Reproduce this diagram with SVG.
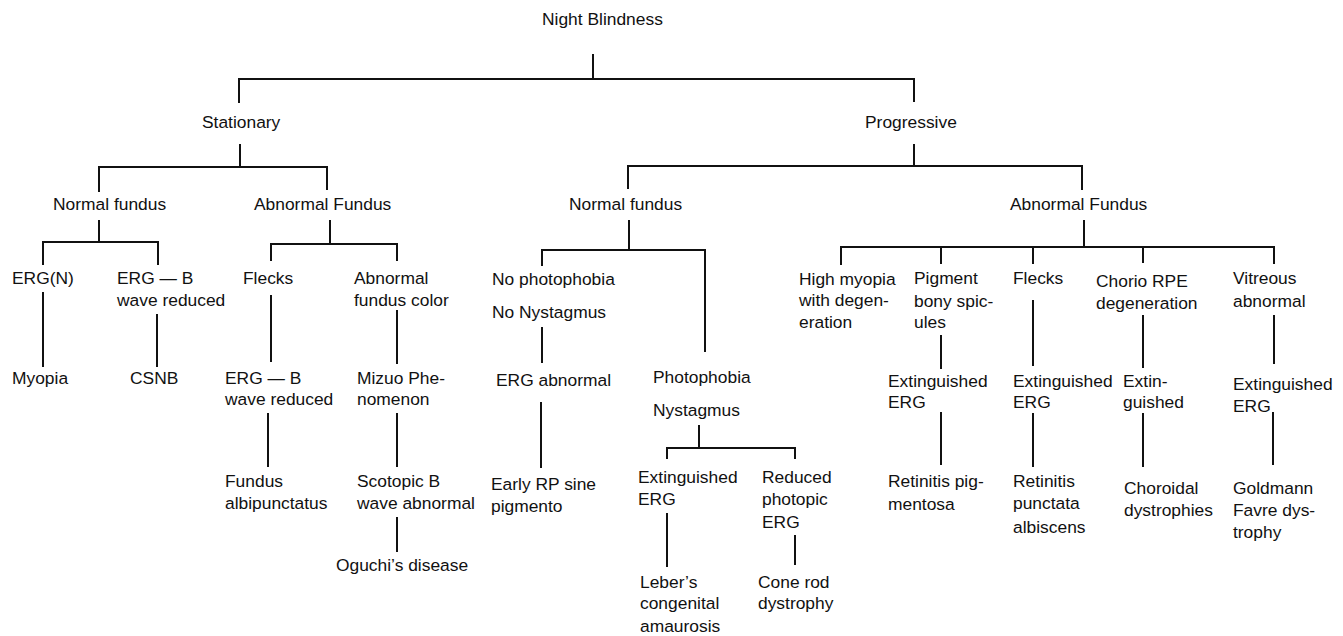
<svg xmlns="http://www.w3.org/2000/svg" width="1343" height="636" viewBox="0 0 1343 636">
<style>
text{font-family:"Liberation Sans",Arial,sans-serif;font-size:17.4px;fill:#111}
.c{fill:none;stroke:#111;stroke-width:2}
</style>
<rect width="1343" height="636" fill="#fff"/>
<g id="connectors">
<path class="c" d="M593 54V79M239 103V79H914V102"/>
<path class="c" d="M240 144V167M99 192V167H327V190"/>
<path class="c" d="M914 144V166M628 189V166H1082V190"/>
<path class="c" d="M99 220V242M43 265V242H158V265"/>
<path class="c" d="M43 292V367M157 314V367"/>
<path class="c" d="M330 220V244M271 261V244H397V261"/>
<path class="c" d="M271 295V362M397 310V364M268 413V467M397 413V467M397 517V552"/>
<path class="c" d="M629 220V250M542 266V250H705V352"/>
<path class="c" d="M542 327V363M541 402V468"/>
<path class="c" d="M699 425V448M667 459V448H795V459"/>
<path class="c" d="M667 513V567M795 535V565"/>
<path class="c" d="M1084 220V247M841 265V247H1274V264M941 247V264M1033 247V264M1143 247V263"/>
<path class="c" d="M941 335V369M1033 300V366M1143 315V368M1274 315V364"/>
<path class="c" d="M941 412V465M1033 413V467M1143 413V467M1273 412V465"/>
</g>
<g id="n-root"><text x="542" y="25">Night Blindness</text></g>
<g id="n-stationary"><text x="202" y="128">Stationary</text></g>
<g id="n-progressive"><text x="865" y="128">Progressive</text></g>
<g id="n-s-normal"><text x="53" y="210">Normal fundus</text></g>
<g id="n-s-abnormal"><text x="254" y="210">Abnormal Fundus</text></g>
<g id="n-p-normal"><text x="569" y="210">Normal fundus</text></g>
<g id="n-p-abnormal"><text x="1010" y="210">Abnormal Fundus</text></g>
<g id="n-ergn"><text x="12" y="284">ERG(N)</text></g>
<g id="n-ergb1"><text x="117" y="284">ERG — B</text><text x="117" y="306">wave reduced</text></g>
<g id="n-myopia"><text x="12" y="384">Myopia</text></g>
<g id="n-csnb"><text x="130" y="384">CSNB</text></g>
<g id="n-flecks1"><text x="243" y="284">Flecks</text></g>
<g id="n-abcolor"><text x="354" y="284">Abnormal</text><text x="354" y="306">fundus color</text></g>
<g id="n-ergb2"><text x="225" y="384">ERG — B</text><text x="225" y="405">wave reduced</text></g>
<g id="n-mizuo"><text x="357" y="384">Mizuo Phe-</text><text x="357" y="405">nomenon</text></g>
<g id="n-fundusalb"><text x="225" y="487">Fundus</text><text x="225" y="509">albipunctatus</text></g>
<g id="n-scotopic"><text x="357" y="487">Scotopic B</text><text x="357" y="509">wave abnormal</text></g>
<g id="n-oguchi"><text x="336" y="571">Oguchi’s disease</text></g>
<g id="n-nophoto"><text x="492" y="285">No photophobia</text><text x="492" y="318">No Nystagmus</text></g>
<g id="n-ergabn"><text x="496" y="386">ERG abnormal</text></g>
<g id="n-earlyrp"><text x="491" y="490">Early RP sine</text><text x="491" y="512">pigmento</text></g>
<g id="n-photo"><text x="653" y="383">Photophobia</text><text x="653" y="416">Nystagmus</text></g>
<g id="n-exterg1"><text x="638" y="483">Extinguished</text><text x="638" y="505">ERG</text></g>
<g id="n-redphot"><text x="762" y="483">Reduced</text><text x="762" y="505">photopic</text><text x="762" y="528">ERG</text></g>
<g id="n-leber"><text x="640" y="588">Leber’s</text><text x="640" y="609">congenital</text><text x="640" y="632">amaurosis</text></g>
<g id="n-conerod"><text x="758" y="588">Cone rod</text><text x="758" y="609">dystrophy</text></g>
<g id="n-highmyopia"><text x="799" y="285">High myopia</text><text x="799" y="306">with degen-</text><text x="799" y="328">eration</text></g>
<g id="n-pigment"><text x="914" y="284">Pigment</text><text x="914" y="307">bony spic-</text><text x="914" y="328">ules</text></g>
<g id="n-flecks2"><text x="1013" y="284">Flecks</text></g>
<g id="n-chorio"><text x="1096" y="287">Chorio RPE</text><text x="1096" y="309">degeneration</text></g>
<g id="n-vitreous"><text x="1233" y="284">Vitreous</text><text x="1233" y="307">abnormal</text></g>
<g id="n-exterg2"><text x="888" y="387">Extinguished</text><text x="888" y="408">ERG</text></g>
<g id="n-exterg3"><text x="1013" y="387">Extinguished</text><text x="1013" y="408">ERG</text></g>
<g id="n-extin"><text x="1123" y="387">Extin-</text><text x="1123" y="408">guished</text></g>
<g id="n-exterg4"><text x="1233" y="390">Extinguished</text><text x="1233" y="412">ERG</text></g>
<g id="n-rp"><text x="888" y="487">Retinitis pig-</text><text x="888" y="510">mentosa</text></g>
<g id="n-rpa"><text x="1013" y="487">Retinitis</text><text x="1013" y="509">punctata</text><text x="1013" y="533">albiscens</text></g>
<g id="n-choroidal"><text x="1124" y="494">Choroidal</text><text x="1124" y="516">dystrophies</text></g>
<g id="n-goldmann"><text x="1233" y="494">Goldmann</text><text x="1233" y="516">Favre dys-</text><text x="1233" y="538">trophy</text></g>
</svg>
